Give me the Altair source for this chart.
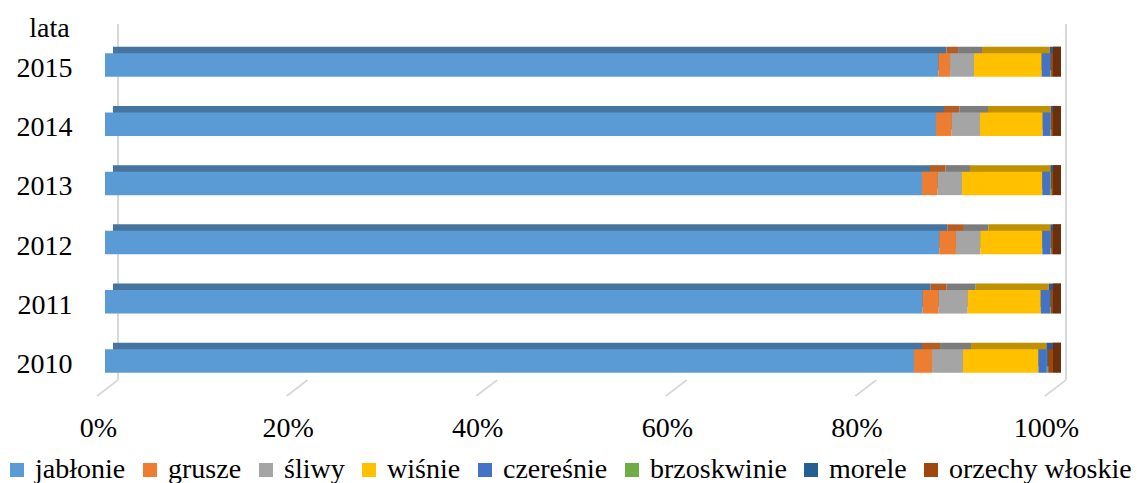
import altair as alt
import pandas as pd

years = ["2015", "2014", "2013", "2012", "2011", "2010"]
species = ["jabłonie", "grusze", "śliwy", "wiśnie", "czereśnie",
           "brzoskwinie", "morele", "orzechy włoskie"]
# percentage shares per year, in the order of `species`
v2015 = [88.00, 1.23, 2.53, 7.14, 0.90, 0.05, 0.05, 0.20]
v2014 = [87.66, 1.65, 2.99, 6.61, 0.80, 0.05, 0.05, 0.19]
v2013 = [86.18, 1.65, 2.57, 8.47, 0.81, 0.10, 0.05, 0.17]
v2012 = [88.00, 1.76, 2.57, 6.54, 0.84, 0.05, 0.05, 0.19]
v2011 = [86.25, 1.69, 3.06, 7.70, 0.98, 0.05, 0.05, 0.22]
v2010 = [85.34, 1.90, 3.27, 7.95, 0.89, 0.07, 0.07, 0.51]
tick_values = [0, 0.2, 0.4, 0.6, 0.8, 1.0]
wall_values = [0, 1.0]

colors = ["#5B9BD5", "#ED7D31", "#A5A5A5", "#FFC000",
          "#4472C4", "#70AD47", "#255E91", "#9E480E"]
dark_colors = ["#44749F", "#B25E25", "#7C7C7C", "#BF9000",
               "#335593", "#548235", "#1C466D", "#6B300A"]

series = [v2015, v2014, v2013, v2012, v2011, v2010]
rows = []
for y, vals in zip(years, series):
    for i, (s, v) in enumerate(zip(species, vals)):
        rows.append({"rok": y, "gatunek": s, "ciemny": s + " ", "ord": i, "v": v})
df = pd.DataFrame(rows)
ends = pd.DataFrame({"rok": years})
ticks = pd.DataFrame({"t": tick_values})
walls = pd.DataFrame({"t": wall_values})

FONT = "Liberation Serif"
FS = 28

xscale = alt.Scale(domain=[0, 1], nice=False, zero=True)
xaxis = alt.Axis(values=tick_values, format="%", domain=False, ticks=False,
                 grid=False, labelFont=FONT, labelFontSize=FS, labelColor="black",
                 labelPadding=18, labelOffset=-7, title=None, labelFlush=False)
yaxis = alt.Axis(domain=False, ticks=False, grid=False, labelFont=FONT,
                 labelFontSize=FS, labelColor="black", labelPadding=33,
                 labelOffset=4, title="lata", titleAngle=0, titleX=-56, titleY=-2,
                 titleAlign="center", titleBaseline="middle", titleFont=FONT,
                 titleFontSize=FS, titleFontWeight="normal", titleColor="black")
yscale = alt.Scale(domain=years, paddingInner=0.603, paddingOuter=0.3925)

grid_v = alt.Chart(walls).mark_rule(color="#D9D9D9", strokeWidth=2, xOffset=13).encode(
    x=alt.X("t:Q", scale=xscale, axis=xaxis),
    y=alt.value(-6), y2=alt.value(350))
grid_d = alt.Chart(ticks).mark_rule(color="#D9D9D9", strokeWidth=2, xOffset=13,
                                    x2Offset=-8).encode(
    x=alt.X("t:Q", scale=xscale, axis=xaxis), x2="t:Q",
    y=alt.value(350), y2=alt.value(366))

bevel = alt.Chart(df).mark_bar(xOffset=8, x2Offset=8, yOffset=-6.5, y2Offset=-6.5).encode(
    x=alt.X("v:Q", stack="normalize", scale=xscale, axis=xaxis),
    y=alt.Y("rok:N", sort=years, scale=yscale, axis=yaxis),
    color=alt.Color("ciemny:N", scale=alt.Scale(domain=[s + " " for s in species],
                                                range=dark_colors), legend=None),
    order=alt.Order("ord:Q"))

side = alt.Chart(ends).mark_bar(size=30, yOffset=-3.25, x2Offset=8,
                                color=dark_colors[-1]).encode(
    x=alt.X(datum=1.0, scale=xscale, axis=xaxis),
    x2=alt.X2(datum=1.0),
    y=alt.Y("rok:N", sort=years, scale=yscale, axis=yaxis))

front = alt.Chart(df).mark_bar().encode(
    x=alt.X("v:Q", stack="normalize", scale=xscale, axis=xaxis),
    y=alt.Y("rok:N", sort=years, scale=yscale, axis=yaxis),
    color=alt.Color("gatunek:N", scale=alt.Scale(domain=species, range=colors),
                    legend=alt.Legend(orient="none", legendX=-102, legendY=426,
                                      direction="horizontal", columns=8, title=None,
                                      symbolType="square", symbolSize=196,
                                      symbolStrokeWidth=0, labelFont=FONT,
                                      labelFontSize=FS, labelColor="black",
                                      labelOffset=4, columnPadding=10,
                                      labelLimit=400, padding=0)),
    order=alt.Order("ord:Q"))

chart = alt.layer(grid_v, grid_d, bevel, side, front).resolve_scale(
    color="independent"
).properties(
    width=948, height=366,
    autosize=alt.AutoSizeParams(type="none"),
    padding={"left": 97, "top": 22, "right": 81, "bottom": 87},
).configure_view(stroke=None)

chart.save("out.html", embed_options={"renderer": "svg", "actions": False})
